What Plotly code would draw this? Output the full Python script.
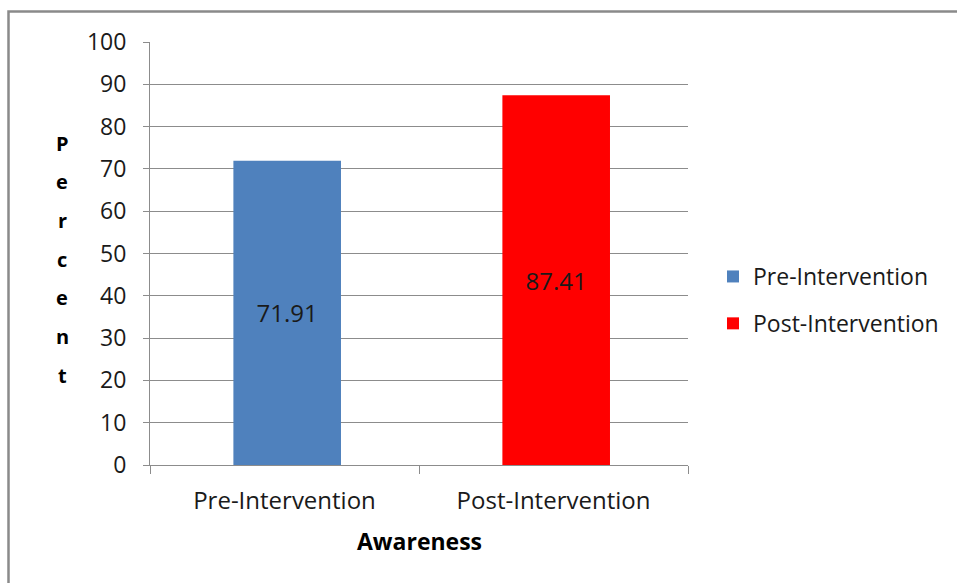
import plotly.graph_objects as go

# Awareness scores before and after the intervention
categories = ["Pre-Intervention", "Post-Intervention"]
series_names = ["Pre-Intervention", "Post-Intervention"]
percent_values = [71.91, 87.41]
bar_colors = ["#4F81BD", "#FF0000"]
y_ticks = [0, 10, 20, 30, 40, 50, 60, 70, 80, 90, 100]
y_title = "Percent"
x_title = "Awareness"

FONT = "Open Sans, sans-serif"
GRID = "#8c8c8c"
TXT = "#1a1a1a"

# plot area in pixels
L, R, T, B = 150, 688, 42, 465
W, H = 957, 583


def px_x(x):
    return (x - L) / (R - L)


def px_y(y):
    return (B - y) / (B - T)


fig = go.Figure()
for name, cat, val, col in zip(series_names, categories, percent_values, bar_colors):
    fig.add_trace(go.Bar(
        name=name,
        x=[cat],
        y=[val],
        width=0.4,
        offset=-0.19,
        marker=dict(color=col, line=dict(width=0)),
        text=[f"{val:.2f}"],
        textposition="inside",
        insidetextanchor="middle",
        textfont=dict(family=FONT, size=24, color=TXT),
        legendgroup=name,
    ))

# outer chart frame (left and top edges)
fig.add_shape(type="path", xref="paper", yref="paper",
              path=f"M {px_x(8.5)} {px_y(600)} L {px_x(8.5)} {px_y(11.5)} L {px_x(970)} {px_y(11.5)}",
              line=dict(color="#8a8a8a", width=2.5))

# y-axis title written as a vertical column of letters
letter_top, letter_step = 143, 38.7
for i, ch in enumerate(y_title):
    fig.add_annotation(text=f"<b>{ch}</b>", xref="paper", yref="paper",
                       x=px_x(62), y=px_y(letter_top + i * letter_step),
                       xanchor="center", yanchor="middle", showarrow=False,
                       font=dict(family=FONT, size=20, color="#000000"))

# x-axis title
fig.add_annotation(text=f"<b>{x_title}</b>", xref="paper", yref="paper",
                   x=0.5, y=px_y(541),
                   xanchor="center", yanchor="middle", showarrow=False,
                   font=dict(family=FONT, size=23, color="#000000"))

fig.update_layout(
    width=W, height=583,
    margin=dict(l=L, r=W - R, t=T, b=H - B),
    paper_bgcolor="white", plot_bgcolor="white",
    barmode="overlay",
    showlegend=True,
    legend=dict(x=px_x(713), y=px_y(300),
                xanchor="left", yanchor="middle",
                font=dict(family=FONT, size=23, color=TXT),
                tracegroupgap=14, itemwidth=30,
                bgcolor="rgba(0,0,0,0)"),
    xaxis=dict(
        type="category", categoryorder="array", categoryarray=categories,
        range=[-0.5, 1.5],
        showline=True, linecolor=GRID, linewidth=1,
        ticks="outside", tickson="boundaries", ticklen=8, tickcolor=GRID,
        tickfont=dict(family=FONT, size=24, color=TXT),
        ticklabelstandoff=14,
        showgrid=False, zeroline=False,
    ),
    yaxis=dict(
        range=[0, 100], tickvals=y_ticks,
        showline=True, linecolor=GRID, linewidth=1,
        ticks="outside", ticklen=6, tickcolor=GRID,
        tickfont=dict(family=FONT, size=23, color=TXT),
        showgrid=True, gridcolor=GRID, gridwidth=1,
        zeroline=False, ticklabelstandoff=12,
    ),
)

fig.write_html("out.html")
